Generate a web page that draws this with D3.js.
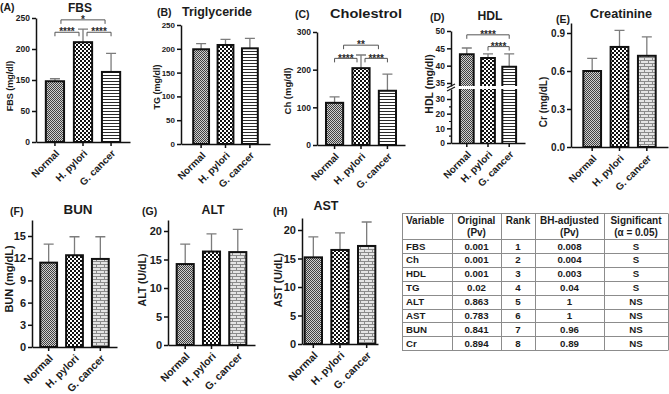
<!DOCTYPE html>
<html>
<head>
<meta charset="utf-8">
<script src="https://cdn.jsdelivr.net/npm/d3@7"></script>
<style>
  body { margin: 0; background: #fff; }
  svg text { font-family: 'Liberation Sans', Arial, sans-serif; font-weight: bold; fill: #1b1b1b; }
</style>
</head>
<body>
<svg id="fig" width="669" height="394"></svg>
<script>
// groups on every x axis
const groups = ['Normal', 'H. pylori', 'G. cancer'];

// bar heights and the top of each error bar
const fbsMean = [146, 211, 163];
const fbsErr  = [152, 232, 193];
const tgMean  = [199, 208, 201];
const tgErr   = [211, 220, 222];
const chMean  = [112, 204, 144];
const chErr   = [128, 239, 188];
const hdlMean = [43.3, 42.2, 39.7];
const hdlErr  = [45.1, 43.4, 43.4];
const crMean  = [0.60, 0.79, 0.72];
const crErr   = [0.70, 0.92, 0.87];
const bunMean = [11.4, 12.4, 11.9];
const bunErr  = [13.9, 14.9, 14.9];
const altMean = [14.2, 16.4, 16.3];
const altErr  = [17.7, 19.5, 20.3];
const astMean = [15.2, 16.5, 17.2];
const astErr  = [18.8, 19.5, 21.4];

// y tick values
const fbsTicks    = [0, 50, 150, 200, 250];
const tgTicks     = [0, 50, 100, 150, 200, 250];
const chTicks     = [0, 100, 200, 300];
const hdlTicksUp  = [35, 40, 45, 50];
const hdlTicksLow = [0, 10, 20, 30];
const hdlMinorLow = [5, 15, 25];
const crTicks     = [0, 0.3, 0.6, 0.9];
const bunTicks    = [0, 3, 6, 9, 12, 15];
const altTicks    = [0, 5, 10, 15, 20];
const astTicks    = [0, 5, 10, 15, 20];

// significance brackets: [from group, to group, stars, height in data units]
const fbsSig = [[0, 1, '****', 227], [1, 2, '****', 227], [0, 2, '*', 247]];
const chSig  = [[0, 1, '****', 230], [1, 2, '****', 230], [0, 2, '**', 265]];
const hdlSig = [[0, 2, '****', 48.9], [1, 2, '****', 45.5]];

// table
const tableHead1 = ['Variable', 'Original', 'Rank', 'BH-adjusted', 'Significant'];
const tableHead2 = ['', '(Pv)', '', '(Pv)', '(α = 0.05)'];
const tableVar   = ['FBS', 'Ch', 'HDL', 'TG', 'ALT', 'AST', 'BUN', 'Cr'];
const tablePv    = ['0.001', '0.001', '0.001', '0.02', '0.863', '0.783', '0.841', '0.894'];
const tableRank  = ['1', '2', '3', '4', '5', '6', '7', '8'];
const tableBH    = ['0.008', '0.004', '0.003', '0.04', '1', '1', '0.96', '0.89'];
const tableSig   = ['S', 'S', 'S', 'S', 'NS', 'NS', 'NS', 'NS'];

const svg = d3.select('#fig');
svg.append('rect').attr('width', 669).attr('height', 394).attr('fill', '#fff');

// fill patterns
const defs = svg.append('defs');
function pattern(id, w, h, bg, rects) {
    const p = defs.append('pattern').attr('id', id)
        .attr('patternUnits', 'userSpaceOnUse').attr('width', w).attr('height', h);
    p.append('rect').attr('width', w).attr('height', h).attr('fill', bg);
    rects.forEach(r => p.append('rect').attr('x', r[0]).attr('y', r[1])
        .attr('width', r[2]).attr('height', r[3]).attr('fill', r[4]));
}
pattern('pNormal', 2, 2, '#cfcfcf', [[0, 0, 1, 1, '#404040'], [1, 1, 1, 1, '#404040']]);
pattern('pHp', 4, 4, '#fff', [[0, 0, 2, 2, '#111'], [2, 2, 2, 2, '#111']]);
pattern('pStripe', 3, 3, '#fff', [[0, 0, 3, 1, '#2a2a2a']]);
pattern('pBrick', 8, 6, '#e4e4e4', [[0, 0, 8, 1, '#8a8a8a'], [0, 3, 8, 1, '#8a8a8a'],
    [0, 0, 1, 3, '#8a8a8a'], [4, 3, 1, 3, '#8a8a8a']]);

const panels = [
    { tag: '(A)', tagX: 0, tagY: 11, title: 'FBS', tX: 80, tY: 12, tW: 24,
      yLabel: 'FBS (mg/dl)', lX: 10, lY: 86, lFont: 9,
      mean: fbsMean, err: fbsErr, ticks: fbsTicks, even: true,
      x0: 36, x1: 130, padO: 0.35, yBot: 142, refPx: 18, axisTop: 18,
      fills: ['pNormal', 'pHp', 'pStripe'], sig: fbsSig, inset: 6, tickFont: 8.5, xFont: 10 },
    { tag: '(B)', tagX: 157, tagY: 16, title: 'Triglyceride', tX: 217, tY: 16, tW: 70,
      yLabel: 'TG (mg/dl)', lX: 157, lY: 87, lFont: 9,
      mean: tgMean, err: tgErr, ticks: tgTicks, ref: 250,
      x0: 181, x1: 270, padO: 0.5, yBot: 144, refPx: 25, axisTop: 25,
      fills: ['pNormal', 'pHp', 'pStripe'], tickFont: 8, xFont: 10 },
    { tag: '(C)', tagX: 295, tagY: 18, title: 'Cholestrol', tX: 366, tY: 18, tW: 72,
      yLabel: 'Ch (mg/dl)', lX: 287, lY: 91, lFont: 9.5,
      mean: chMean, err: chErr, ticks: chTicks, ref: 300,
      x0: 317, x1: 405, padO: 0.34, yBot: 145, refPx: 32, axisTop: 32,
      fills: ['pNormal', 'pHp', 'pStripe'], sig: chSig, inset: 9, tickFont: 8.5, xFont: 10 },
    { tag: '(E)', tagX: 556, tagY: 23, title: 'Creatinine', tX: 621, tY: 18, tW: 62,
      yLabel: 'Cr (mg/dL)', lX: 543, lY: 102, lFont: 10,
      mean: crMean, err: crErr, ticks: crTicks, ref: 0.9, fmt: d3.format('.1f'),
      x0: 571, x1: 668, padO: 0.45, yBot: 147, refPx: 33, axisTop: 23,
      fills: ['pNormal', 'pHp', 'pBrick'], tickFont: 10, xFont: 10 },
    { tag: '(F)', tagX: 10, tagY: 215, title: 'BUN', tX: 78, tY: 214, tW: 29,
      yLabel: 'BUN (mg/dL)', lX: 9, lY: 279, lFont: 11,
      mean: bunMean, err: bunErr, ticks: bunTicks, ref: 15,
      x0: 32, x1: 117, padO: 0.32, yBot: 347, refPx: 236, axisTop: 220,
      fills: ['pNormal', 'pHp', 'pBrick'], tickFont: 11, xFont: 10.5 },
    { tag: '(G)', tagX: 142, tagY: 215, title: 'ALT', tX: 213, tY: 214, tW: 23,
      yLabel: 'ALT (U/dL)', lX: 142, lY: 280, lFont: 10.5,
      mean: altMean, err: altErr, ticks: altTicks, ref: 20,
      x0: 168, x1: 255, padO: 0.33, yBot: 345, refPx: 231, axisTop: 220,
      fills: ['pNormal', 'pHp', 'pBrick'], tickFont: 11, xFont: 10.5 },
    { tag: '(H)', tagX: 273, tagY: 215, title: 'AST', tX: 326, tY: 210, tW: 25,
      yLabel: 'AST (U/dL)', lX: 278, lY: 280, lFont: 10.5,
      mean: astMean, err: astErr, ticks: astTicks, ref: 20,
      x0: 302, x1: 378, padO: 0.1, yBot: 344, refPx: 230, axisTop: 218,
      fills: ['pNormal', 'pHp', 'pBrick'], tickFont: 11, xFont: 10.5 }
];

const hdlPanel = { tag: '(D)', tagX: 430, tagY: 21, title: 'HDL', tX: 490, tY: 20, tW: 25,
    yLabel: 'HDL (mg/dl)', lX: 429, lY: 84, lFont: 10.5,
    mean: hdlMean, err: hdlErr, x0: 451, x1: 525, padO: 0.42, yBot: 143,
    upPx: [83, 31], upBot: 86, lowPx: [143, 99], lowTop: 89,
    fills: ['pNormal', 'pHp', 'pStripe'], sig: hdlSig, inset: 0, tickFont: 8.5, xFont: 10 };

function styleAxis(a, font) {
    a.select('.domain').attr('stroke', '#111').attr('stroke-width', 1.5);
    a.selectAll('.tick line').attr('stroke', '#111').attr('stroke-width', 1.5);
    a.selectAll('text').style('font-size', font + 'px');
}

function addTexts(c) {
    svg.append('text').attr('x', c.tagX).attr('y', c.tagY).style('font-size', '10.5px').text(c.tag);
    svg.append('text').attr('x', c.tX).attr('y', c.tY).attr('text-anchor', 'middle')
        .attr('textLength', c.tW).attr('lengthAdjust', 'spacingAndGlyphs')
        .style('font-size', '12.5px').text(c.title);
    svg.append('text').attr('transform', `translate(${c.lX},${c.lY}) rotate(-90)`)
        .attr('text-anchor', 'middle').attr('dominant-baseline', 'central')
        .style('font-size', c.lFont + 'px').text(c.yLabel);
}

function addXAxis(g, x, c) {
    const a = g.append('g').attr('transform', `translate(0,${c.yBot})`)
        .call(d3.axisBottom(x).tickSize(4).tickSizeOuter(0));
    styleAxis(a, c.xFont);
    a.selectAll('text').attr('y', 0).attr('dy', 0)
        .attr('transform', 'translate(5,12) rotate(-45)')
        .style('text-anchor', 'end');
}

function addErrors(g, x, y, c) {
    const cx = i => x(groups[i]) + x.bandwidth() / 2;
    groups.forEach((d, i) => {
        g.append('path')
            .attr('d', `M${cx(i)},${y(c.mean[i])}V${y(c.err[i])}M${cx(i) - 5},${y(c.err[i])}H${cx(i) + 5}`)
            .attr('fill', 'none').attr('stroke', '#7c7c7c').attr('stroke-width', 1.3);
    });
}

function addSig(g, x, y, c) {
    if (!c.sig) return;
    const cx = i => x(groups[i]) + x.bandwidth() / 2;
    c.sig.forEach(s => {
        let xa = cx(s[0]), xb = cx(s[1]);
        if (s[1] - s[0] === 2) { xa += c.inset; xb -= c.inset; }
        // brackets sharing a bar at the same height leave a small gap
        if (c.sig.some(o => o !== s && o[3] === s[3] && o[0] === s[1])) xb -= 4;
        if (c.sig.some(o => o !== s && o[3] === s[3] && o[1] === s[0])) xa += 4;
        const yy = y(s[3]);
        g.append('path').attr('d', `M${xa},${yy + 4}V${yy}H${xb}V${yy + 4}`)
            .attr('fill', 'none').attr('stroke', '#555').attr('stroke-width', 1);
        g.append('text').attr('x', (xa + xb) / 2).attr('y', yy + 3.2)
            .attr('text-anchor', 'middle')
            .style('font-size', '10px').style('fill', '#2a2a2a')
            .text(s[2]);
    });
}

function drawPanel(c) {
    const g = svg.append('g');
    const x = d3.scaleBand().domain(groups).range([c.x0, c.x1])
        .paddingInner(0.35).paddingOuter(c.padO);
    let y;
    if (c.even) {
        // tick labels sit at even steps on this axis
        y = d3.scaleLinear().domain(c.ticks)
            .range(c.ticks.map((d, i) => c.yBot - i * (c.yBot - c.refPx) / (c.ticks.length - 1)));
    } else {
        y = d3.scaleLinear().domain([0, c.ref]).range([c.yBot, c.refPx]);
        y.domain([0, y.invert(c.axisTop)]).range([c.yBot, c.axisTop]);
    }

    addErrors(g, x, y, c);

    g.selectAll('rect.bar').data(groups).join('rect').attr('class', 'bar')
        .attr('x', d => x(d)).attr('width', x.bandwidth())
        .attr('y', (d, i) => y(c.mean[i]))
        .attr('height', (d, i) => c.yBot - y(c.mean[i]))
        .attr('fill', (d, i) => `url(#${c.fills[i]})`)
        .attr('stroke', '#111').attr('stroke-width', 2);

    const ya = g.append('g').attr('transform', `translate(${c.x0},0)`)
        .call(d3.axisLeft(y).tickValues(c.ticks).tickSize(4).tickPadding(2).tickSizeOuter(0)
            .tickFormat(c.fmt || (d => d)));
    styleAxis(ya, c.tickFont);

    addXAxis(g, x, c);
    addSig(g, x, y, c);
    addTexts(c);
}

function drawHdl(c) {
    const g = svg.append('g');
    const x = d3.scaleBand().domain(groups).range([c.x0, c.x1])
        .paddingInner(0.35).paddingOuter(c.padO);
    // broken axis: two linear pieces
    const yUp = d3.scaleLinear().domain([35, 50]).range(c.upPx);
    yUp.domain([yUp.invert(c.upBot), 50]).range([c.upBot, c.upPx[1]]);
    const yLow = d3.scaleLinear().domain([0, 30]).range(c.lowPx);
    yLow.domain([0, yLow.invert(c.lowTop)]).range([c.yBot, c.lowTop]);

    addErrors(g, x, yUp, c);

    groups.forEach((grp, i) => {
        const bx = x(grp), bw = x.bandwidth(), top = yUp(c.mean[i]);
        const fill = `url(#${c.fills[i]})`;
        g.append('rect').attr('x', bx).attr('y', yLow(yLow.domain()[1])).attr('width', bw)
            .attr('height', c.yBot - c.lowTop).attr('fill', fill);
        g.append('rect').attr('x', bx).attr('y', top).attr('width', bw)
            .attr('height', c.upBot - top).attr('fill', fill);
        g.append('path')
            .attr('d', `M${bx},${c.yBot}V${c.lowTop}M${bx},${c.upBot}V${top}H${bx + bw}V${c.upBot}M${bx + bw},${c.lowTop}V${c.yBot}`)
            .attr('fill', 'none').attr('stroke', '#111').attr('stroke-width', 2);
    });

    const au = g.append('g').attr('transform', `translate(${c.x0},0)`)
        .call(d3.axisLeft(yUp).tickValues(hdlTicksUp).tickSize(4).tickPadding(2).tickSizeOuter(0));
    styleAxis(au, c.tickFont);
    const al = g.append('g').attr('transform', `translate(${c.x0},0)`)
        .call(d3.axisLeft(yLow).tickValues(hdlTicksLow).tickSize(4).tickPadding(2).tickSizeOuter(0));
    styleAxis(al, c.tickFont);
    const am = g.append('g').attr('transform', `translate(${c.x0},0)`)
        .call(d3.axisLeft(yLow).tickValues(hdlMinorLow).tickSize(2).tickFormat(''));
    am.select('.domain').remove();
    am.selectAll('.tick line').attr('stroke', '#111').attr('stroke-width', 1.2);

    // break marks
    [c.upBot, c.lowTop].forEach(b => {
        g.append('line').attr('x1', c.x0 - 4).attr('y1', b + 2).attr('x2', c.x0 + 4).attr('y2', b - 2)
            .attr('stroke', '#111').attr('stroke-width', 1.2);
    });

    addXAxis(g, x, c);
    addSig(g, x, yUp, c);
    addTexts(c);
}

panels.forEach(drawPanel);
drawHdl(hdlPanel);

// p-value table
const colX = [402, 452, 501, 535, 604, 668];
const tTop = 213, tHead = 239, rowH = 13.9;
const tg = svg.append('g');
const lineYs = [tTop].concat(d3.range(tableVar.length + 1).map(i => tHead + i * rowH));
const tBot = lineYs[lineYs.length - 1];
lineYs.forEach(yy => tg.append('line')
    .attr('x1', colX[0]).attr('x2', colX[colX.length - 1])
    .attr('y1', Math.round(yy) + 0.5).attr('y2', Math.round(yy) + 0.5)
    .attr('stroke', '#8c8c8c').attr('stroke-width', 1));
colX.forEach(xx => tg.append('line')
    .attr('x1', xx + 0.5).attr('x2', xx + 0.5)
    .attr('y1', tTop + 0.5).attr('y2', Math.round(tBot) + 0.5)
    .attr('stroke', '#8c8c8c').attr('stroke-width', 1));

const colText = i => i === 0 ? colX[0] + 4 : (colX[i] + colX[i + 1]) / 2;
const colAnchor = i => i === 0 ? 'start' : 'middle';
tableHead1.forEach((t, i) => tg.append('text').attr('x', colText(i)).attr('y', tTop + 10.5)
    .attr('text-anchor', colAnchor(i)).style('font-size', '10px').text(t));
tableHead2.forEach((t, i) => tg.append('text').attr('x', colText(i)).attr('y', tTop + 23)
    .attr('text-anchor', colAnchor(i)).style('font-size', '10px').text(t));

const tableCols = [tableVar, tablePv, tableRank, tableBH, tableSig];
tableCols.forEach((col, i) => {
    col.forEach((t, r) => tg.append('text').attr('x', colText(i)).attr('y', tHead + r * rowH + 10.5)
        .attr('text-anchor', colAnchor(i)).style('font-size', '9.7px').text(t));
});
</script>
</body>
</html>
